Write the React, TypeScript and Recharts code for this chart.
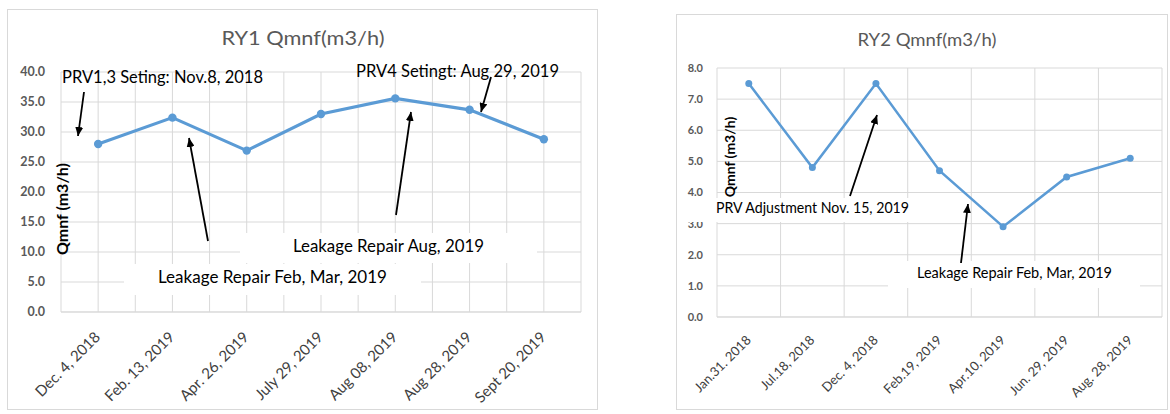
import { LineChart, Line, XAxis, YAxis, CartesianGrid } from "recharts";

// RY1 readings
const ry1Dates = [
  "Dec. 4, 2018",
  "Feb. 13, 2019",
  "Apr. 26, 2019",
  "July 29, 2019",
  "Aug 08, 2019",
  "Aug 28, 2019",
  "Sept 20, 2019",
];
const ry1Qmnf = [28.0, 32.4, 26.9, 33.0, 35.6, 33.7, 28.8];
const ry1Ticks = [0, 5, 10, 15, 20, 25, 30, 35, 40];

// RY2 readings
const ry2Dates = [
  "Jan.31. 2018",
  "Jul.18, 2018",
  "Dec. 4, 2018",
  "Feb.19, 2019",
  "Apr.10, 2019",
  "Jun. 29, 2019",
  "Aug. 28, 2019",
];
const ry2Qmnf = [7.5, 4.8, 7.5, 4.7, 2.9, 4.5, 5.1];
const ry2Ticks = [0, 1, 2, 3, 4, 5, 6, 7, 8];

const ry1Data = ry1Dates.map((date, i) => ({ date, qmnf: ry1Qmnf[i] }));
const ry2Data = ry2Dates.map((date, i) => ({ date, qmnf: ry2Qmnf[i] }));

const FONT = "Lato, 'Open Sans', sans-serif";
const GRID = "#d9d9d9";
const BLUE = "#5B9BD5";
const GREY = "#595959";

// vertical gridlines: category edges, optionally category centres too
const gridX = (count: number, withCentres: boolean) => (props: any) => {
  const { left, width } = props.offset;
  const step = width / count;
  const xs: number[] = [];
  for (let i = 0; i <= count; i++) {
    xs.push(left + i * step);
    if (withCentres && i < count) xs.push(left + (i + 0.5) * step);
  }
  return xs;
};

const SlantTick = ({ x, y, payload, size, dx, dy }: any) => (
  <g transform={`translate(${x + dx},${y + dy})`}>
    <text
      textAnchor="end"
      transform="rotate(-45)"
      fontSize={size}
      fontFamily={FONT}
      fill="#404040"
    >
      {payload.value}
    </text>
  </g>
);

const Arrow = ({ from, to, id }: { from: number[]; to: number[]; id: string }) => (
  <line
    x1={from[0]}
    y1={from[1]}
    x2={to[0]}
    y2={to[1]}
    stroke="#000"
    strokeWidth={1.8}
    markerEnd={`url(#${id})`}
  />
);

const Note = ({ x, y, w, size, children }: any) => (
  <text
    x={x}
    y={y}
    fontSize={size}
    fontFamily={FONT}
    fill="#000"
    textLength={w}
    lengthAdjust="spacingAndGlyphs"
  >
    {children}
  </text>
);

const ArrowHead = ({ id }: { id: string }) => (
  <defs>
    <marker
      id={id}
      markerUnits="userSpaceOnUse"
      markerWidth={9}
      markerHeight={8}
      refX={9}
      refY={4}
      orient="auto"
    >
      <path d="M0,0 L9,4 L0,8 z" fill="#000" />
    </marker>
  </defs>
);

function RY1Chart() {
  return (
    <div style={{ position: "absolute", left: 0, top: 0, width: 600, height: 414 }}>
      <LineChart
        width={600}
        height={414}
        data={ry1Data}
        margin={{ top: 72, right: 19, bottom: 0, left: 0 }}
      >
        <CartesianGrid stroke={GRID} verticalCoordinatesGenerator={gridX(7, true)} />
        <XAxis
          dataKey="date"
          interval={0}
          height={102}
          padding={{ left: 520 / 14, right: 520 / 14 }}
          tickLine={false}
          axisLine={{ stroke: GRID }}
          tick={<SlantTick size={15} dx={3} dy={18} />}
        />
        <YAxis
          width={61}
          domain={[0, 40]}
          ticks={ry1Ticks}
          interval={0}
          axisLine={false}
          tickLine={false}
          tickSize={0}
          tickMargin={16}
          tickFormatter={(v: number) => v.toFixed(1)}
          tick={{ fontSize: 12.5, fontWeight: 700, fill: GREY, fontFamily: FONT }}
        />
        <Line
          dataKey="qmnf"
          stroke={BLUE}
          strokeWidth={3.2}
          dot={{ r: 4.2, fill: BLUE, stroke: BLUE, strokeWidth: 0 }}
          isAnimationActive={false}
        />
      </LineChart>
      <svg
        width={600}
        height={414}
        style={{ position: "absolute", left: 0, top: 0, pointerEvents: "none" }}
      >
        <ArrowHead id="headL" />
        <rect x={7.5} y={9.5} width={590} height={400} fill="none" stroke={GRID} />
        <text
          x={303}
          y={45}
          textAnchor="middle"
          fontSize={20}
          fontFamily={FONT}
          fill={GREY}
          textLength={163}
          lengthAdjust="spacingAndGlyphs"
        >
          RY1 Qmnf(m3/h)
        </text>
        <text
          transform="translate(68,209) rotate(-90)"
          textAnchor="middle"
          fontSize={16}
          fontWeight={700}
          fontFamily={FONT}
          fill="#000"
        >
          Qmnf (m3/h)
        </text>
        <rect x={240} y={233} width={297} height={30} fill="#fff" />
        <rect x={124} y={264} width={297} height={31} fill="#fff" />
        <Note x={62} y={83} w={201} size={17}>PRV1,3 Seting: Nov.8, 2018</Note>
        <Note x={356} y={77} w={203} size={17}>PRV4 Setingt: Aug 29, 2019</Note>
        <Note x={293} y={252} w={191} size={17}>Leakage Repair Aug, 2019</Note>
        <Note x={158} y={283} w={229} size={17}>Leakage Repair Feb, Mar, 2019</Note>
        <Arrow id="headL" from={[84, 92]} to={[78, 136]} />
        <Arrow id="headL" from={[208, 241]} to={[189, 138]} />
        <Arrow id="headL" from={[396, 215]} to={[411, 112]} />
        <Arrow id="headL" from={[491, 77]} to={[481, 112]} />
      </svg>
    </div>
  );
}

function RY2Chart() {
  return (
    <div style={{ position: "absolute", left: 670, top: 0, width: 500, height: 414 }}>
      <LineChart
        width={500}
        height={414}
        data={ry2Data}
        margin={{ top: 68, right: 8, bottom: 0, left: 0 }}
      >
        <CartesianGrid stroke={GRID} verticalCoordinatesGenerator={gridX(7, false)} />
        <XAxis
          dataKey="date"
          interval={0}
          height={97}
          padding={{ left: 445 / 14, right: 445 / 14 }}
          tickLine={false}
          axisLine={{ stroke: GRID }}
          tick={<SlantTick size={13} dx={3} dy={16} />}
        />
        <YAxis
          width={47}
          domain={[0, 8]}
          ticks={ry2Ticks}
          interval={0}
          axisLine={false}
          tickLine={false}
          tickSize={0}
          tickMargin={14}
          tickFormatter={(v: number) => v.toFixed(1)}
          tick={{ fontSize: 11, fontWeight: 700, fill: GREY, fontFamily: FONT }}
        />
        <Line
          dataKey="qmnf"
          stroke={BLUE}
          strokeWidth={2.5}
          dot={{ r: 3.5, fill: BLUE, stroke: BLUE, strokeWidth: 0 }}
          isAnimationActive={false}
        />
      </LineChart>
      <svg
        width={500}
        height={414}
        style={{ position: "absolute", left: 0, top: 0, pointerEvents: "none" }}
      >
        <ArrowHead id="headR" />
        <rect x={6.5} y={14.5} width={491} height={395} fill="none" stroke={GRID} />
        <text
          x={257}
          y={46}
          textAnchor="middle"
          fontSize={17}
          fontFamily={FONT}
          fill={GREY}
          textLength={139}
          lengthAdjust="spacingAndGlyphs"
        >
          RY2 Qmnf(m3/h)
        </text>
        <text
          transform="translate(65,157) rotate(-90)"
          textAnchor="middle"
          fontSize={14}
          fontWeight={700}
          fontFamily={FONT}
          fill="#000"
        >
          Qmnf (m3/h)
        </text>
        <rect x={15} y={198} width={230} height={24} fill="#fff" />
        <rect x={218} y={261} width={252} height={27} fill="#fff" />
        <Note x={46} y={213} w={193} size={15}>PRV Adjustment Nov. 15, 2019</Note>
        <Note x={247} y={278} w={195} size={15}>Leakage Repair Feb, Mar, 2019</Note>
        <Arrow id="headR" from={[180, 196]} to={[207, 115]} />
        <Arrow id="headR" from={[291, 263]} to={[298, 204]} />
      </svg>
    </div>
  );
}

export default function App() {
  return (
    <div
      style={{
        position: "absolute",
        left: 0,
        top: 0,
        width: 1170,
        height: 414,
        background: "#fff",
      }}
    >
      <RY1Chart />
      <RY2Chart />
    </div>
  );
}
